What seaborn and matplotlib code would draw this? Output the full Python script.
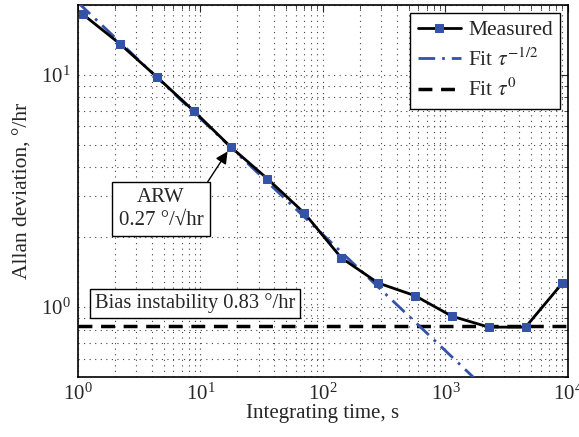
import numpy as np
import pandas as pd
import matplotlib
matplotlib.use("Agg")
import matplotlib.pyplot as plt
import seaborn as sns

# data
tau = [1.1, 2.2, 4.4, 8.8, 17.6, 35.2, 70.4, 141, 282, 563, 1126, 2253, 4506, 9011]
adev = [18.2, 13.6, 9.8, 7.0, 4.9, 3.57, 2.54, 1.63, 1.27, 1.12, 0.914, 0.82, 0.82, 1.27]
fit_tau = [1.0, 10000.0]
arw_coef = 20.5
bias = 0.83

sns.set_style("white")
plt.rcParams['font.family'] = ['Liberation Serif', 'DejaVu Serif']
plt.rcParams['mathtext.fontset'] = 'stix'

fig = plt.figure(figsize=(5.79, 4.37), dpi=100)
ax = fig.add_axes([0.1347, 0.1373, 0.981 - 0.1347, 0.9886 - 0.1373])

blue = '#3352a8'
fit_df = pd.DataFrame({'tau': fit_tau, 'fit': [arw_coef / np.sqrt(t) for t in fit_tau],
                       'bias': [bias for _ in fit_tau]})
meas_df = pd.DataFrame({'tau': tau, 'adev': adev})

sns.lineplot(data=fit_df, x='tau', y='bias', ax=ax, color='black', lw=2.5,
             linestyle=(0, (4, 2.5)), label=r'Fit $\tau^0$', zorder=2)
sns.lineplot(data=fit_df, x='tau', y='fit', ax=ax, color=blue, lw=2,
             linestyle=(0, (6, 2.5, 1, 2.5)), label=r'Fit $\tau^{-1/2}$', zorder=3)
sns.lineplot(data=meas_df, x='tau', y='adev', ax=ax, color='black', lw=2, marker='s',
             markersize=6.2, markerfacecolor=blue, markeredgecolor=blue,
             label='Measured', zorder=4)

ax.set_xscale('log')
ax.set_yscale('log')
ax.set_xlim(1, 1e4)
ax.set_ylim(0.5, 20)

ax.grid(True, which='both', linestyle=(0, (1, 4)), color='#444444', linewidth=0.8)
ax.tick_params(which='both', direction='in', top=True, right=True, labelsize=15)
ax.tick_params(which='major', length=5, pad=5)
ax.tick_params(which='minor', length=3)
for s in ax.spines.values():
    s.set_linewidth(1.2)
    s.set_color('black')

ax.set_xlabel('Integrating time, s', fontsize=15, labelpad=-1)
ax.set_ylabel('Allan deviation, °/hr', fontsize=15.5, labelpad=6)

handles, labels = ax.get_legend_handles_labels()
order = [2, 1, 0]
leg = ax.legend([handles[i] for i in order], [labels[i] for i in order],
                loc='upper right', fontsize=15.5, frameon=True, fancybox=False,
                edgecolor='black', framealpha=1, borderaxespad=0.35,
                handlelength=2.0, labelspacing=0.38, borderpad=0.35, handletextpad=0.35)
leg.get_frame().set_linewidth(1.0)

ax.annotate('ARW\n0.27 °/√hr', xy=(17.6, 4.9), xytext=(4.76, 2.64),
            fontsize=15, ha='center', va='center', multialignment='center',
            linespacing=1.25,
            bbox=dict(boxstyle='square,pad=0.3', fc='white', ec='black', lw=1),
            arrowprops=dict(arrowstyle='-|>', color='black', lw=1, mutation_scale=18,
                            shrinkA=0, shrinkB=4, relpos=(1.0, 1.0)))
ax.text(9.0, 1.04, 'Bias instability 0.83 °/hr', fontsize=14.8, ha='center', va='center',
        bbox=dict(boxstyle='square,pad=0.22', fc='white', ec='black', lw=1))

fig.savefig('out.png', dpi=100)
